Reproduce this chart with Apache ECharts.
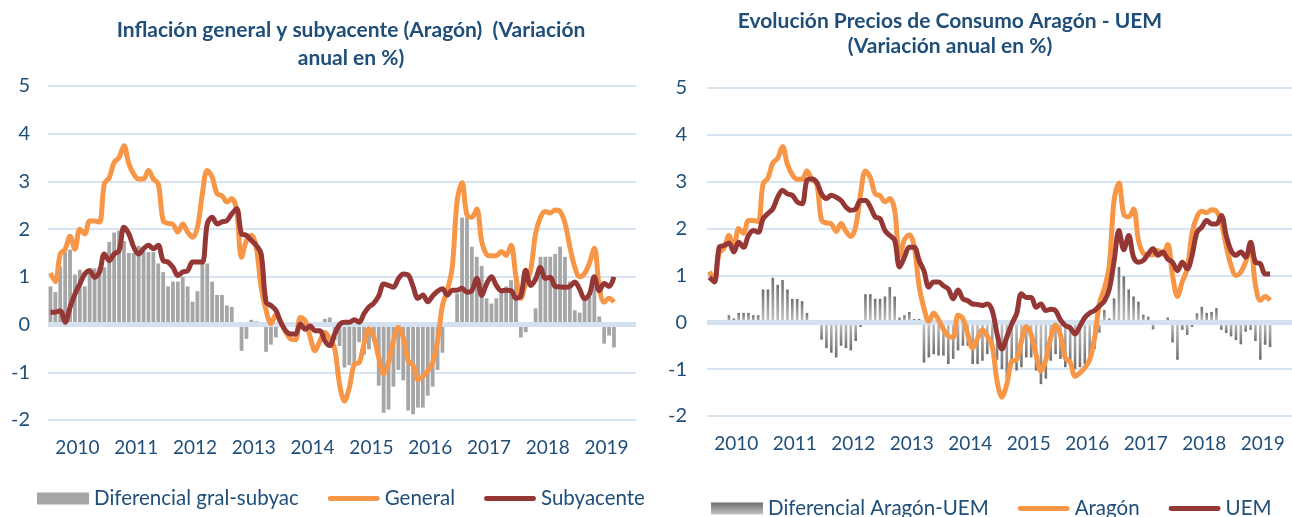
<!DOCTYPE html>
<html>
<head>
    <title>Inflación Aragón</title>
    <script src="https://cdn.jsdelivr.net/npm/echarts@6/dist/echarts.min.js"></script>
    <style>
        body { margin: 0; background: #fff; }
        .chart-box { position: absolute; top: 0; height: 517px; }
        #left { left: 0; width: 650px; }
        #right { left: 650px; width: 642px; }
    </style>
</head>
<body>
    <div id="left" class="chart-box"></div>
    <div id="right" class="chart-box"></div>

    <script>
        // year labels under the monthly axis
        var years = ['2010', '2011', '2012', '2013', '2014', '2015', '2016', '2017', '2018', '2019'];

        // general inflation Aragón (also "Aragón" in the right chart), Jan 2010 - Aug 2019
        var general = [
            1.08, 0.90, 1.48, 1.58, 1.85, 1.58, 2.00, 1.90, 2.17, 2.17, 2.15, 2.95,
            3.08, 3.40, 3.50, 3.75, 3.37, 3.15, 3.05, 3.05, 3.23, 3.05, 2.95, 2.18,
            2.12, 2.10, 1.94, 2.11, 1.94, 1.83, 2.04, 2.74, 3.23, 3.09, 2.74, 2.70,
            2.57, 2.64, 2.39, 1.41, 1.76, 1.87, 1.62, 0.78, 0.30, 0.02, 0.20, 0.05,
            -0.15, -0.30, -0.32, 0.15, 0.08, -0.26, -0.55, -0.34, -0.16, -0.30, -0.50, -1.25,
            -1.60, -1.32, -0.83, -0.80, -0.40, -0.09, -0.27, -0.69, -1.04, -0.80, -0.34, -0.06,
            -0.27, -0.76, -0.85, -1.15, -1.08, -0.97, -0.80, -0.34, 0.40, 0.72, 1.20, 2.60,
            2.97, 2.30, 2.25, 2.42, 1.75, 1.47, 1.44, 1.44, 1.53, 1.45, 1.66, 1.00,
            0.55, 0.87, 1.14, 1.90, 2.25, 2.37, 2.34, 2.40, 2.37, 2.13, 1.63, 1.21,
            1.00, 1.07, 1.29, 1.60, 0.79, 0.47, 0.55, 0.47
        ];

        var subyacente = [
            0.26, 0.26, 0.29, 0.05, 0.36, 0.64, 0.85, 1.06, 1.13, 0.99, 1.10, 1.48,
            1.34, 1.48, 1.55, 2.04, 1.90, 1.62, 1.48, 1.59, 1.66, 1.59, 1.66, 1.34,
            1.31, 1.20, 1.03, 1.10, 1.13, 1.31, 1.31, 1.31, 2.11, 2.25, 2.11, 2.15,
            2.18, 2.32, 2.43, 1.90, 1.87, 1.76, 1.66, 1.48, 0.47, 0.40, 0.30, 0.05,
            -0.13, -0.20, -0.20, 0.01, -0.10, -0.03, -0.13, -0.13, -0.34, -0.44, -0.20, 0.00,
            0.05, 0.05, 0.10, 0.05, 0.23, 0.37, 0.45, 0.60, 0.85, 0.82, 0.78, 0.96,
            1.06, 1.04, 0.80, 0.55, 0.62, 0.48, 0.60, 0.70, 0.75, 0.62, 0.72, 0.72,
            0.76, 0.68, 0.71, 0.97, 0.61, 0.85, 1.00, 0.82, 0.71, 0.72, 0.71, 0.55,
            0.60, 1.14, 0.82, 0.95, 1.20, 0.97, 0.99, 0.80, 0.79, 0.78, 0.80, 0.89,
            0.74, 0.54, 0.64, 1.00, 0.71, 0.86, 0.80, 1.00
        ];

        var difGralSubyac = [
            0.80, 0.68, 1.22, 1.52, 1.57, 1.05, 1.15, 0.80, 1.18, 1.18, 1.20, 1.20,
            1.73, 1.93, 1.97, 1.75, 1.50, 1.50, 1.65, 1.55, 1.52, 1.52, 1.28, 1.10,
            0.80, 0.90, 0.90, 1.00, 0.80, 0.48, 0.70, 1.30, 1.28, 0.90, 0.62, 0.62,
            0.40, 0.37, -0.05, -0.55, -0.30, 0.10, 0.07, 0.00, -0.57, -0.42, -0.27, 0.00,
            0.00, 0.00, 0.05, 0.10, 0.10, 0.00, 0.00, 0.00, 0.12, 0.15, -0.33, -0.45,
            -0.90, -0.85, -0.88, -0.37, -0.63, -0.52, -0.30, -1.28, -1.85, -1.78, -1.30, -0.95,
            -1.17, -1.80, -1.88, -1.74, -1.74, -1.49, -1.30, -0.95, -0.59, 0.03, 0.00, 0.65,
            2.24, 2.24, 1.63, 1.42, 1.23, 0.55, 0.44, 0.55, 0.72, 0.80, 0.93, 0.90,
            -0.27, -0.16, 0.00, 0.34, 1.42, 1.42, 1.42, 1.48, 1.63, 1.42, 0.90, 0.30,
            0.25, 0.50, 0.58, 0.79, 0.17, -0.40, -0.23, -0.48
        ];

        var uem = [
            0.96, 0.86, 1.60, 1.64, 1.69, 1.50, 1.71, 1.60, 1.85, 1.96, 1.92, 2.21,
            2.32, 2.42, 2.67, 2.82, 2.74, 2.71, 2.57, 2.53, 3.03, 3.06, 2.99, 2.74,
            2.64, 2.71, 2.67, 2.60, 2.46, 2.39, 2.42, 2.60, 2.60, 2.46, 2.25, 2.21,
            1.96, 1.85, 1.75, 1.18, 1.39, 1.60, 1.60, 1.32, 1.10, 0.75, 0.86, 0.86,
            0.78, 0.71, 0.50, 0.69, 0.50, 0.46, 0.39, 0.38, 0.36, 0.39, 0.25, -0.25,
            -0.57, -0.32, -0.04, 0.18, 0.61, 0.53, 0.53, 0.32, 0.39, 0.25, 0.28, 0.25,
            0.05, -0.07, -0.12, -0.25, -0.08, 0.10, 0.20, 0.25, 0.35, 0.45, 0.70, 1.30,
            1.96, 1.55, 1.85, 1.39, 1.28, 1.32, 1.46, 1.57, 1.43, 1.50, 1.35, 1.28,
            1.10, 1.28, 1.14, 1.43, 1.92, 2.03, 2.17, 2.10, 2.10, 2.28, 1.85, 1.53,
            1.43, 1.50, 1.39, 1.71, 1.28, 1.25, 1.03, 1.03
        ];

        var difAragonUem = [
            0.05, 0.02, 0.00, -0.03, 0.15, 0.08, 0.20, 0.20, 0.20, 0.15, 0.15, 0.70,
            0.70, 0.95, 0.80, 0.90, 0.70, 0.50, 0.50, 0.45, 0.20, 0.02, 0.00, -0.37,
            -0.55, -0.65, -0.75, -0.50, -0.55, -0.60, -0.40, -0.10, 0.60, 0.60, 0.50, 0.50,
            0.55, 0.75, 0.55, 0.10, 0.15, 0.22, 0.07, 0.07, -0.86, -0.75, -0.68, -0.71,
            -0.71, -0.89, -0.78, -0.60, -0.50, -0.50, -0.89, -0.89, -0.82, -0.68, -0.60, -0.80,
            -1.00, -1.20, -0.86, -1.03, -0.96, -0.75, -0.75, -1.03, -1.32, -1.20, -0.82, -0.68,
            -0.78, -0.96, -0.93, -1.00, -0.96, -0.89, -0.82, -0.57, -0.22, 0.26, 0.08, 0.51,
            1.18, 0.98, 0.70, 0.55, 0.44, 0.16, 0.12, -0.15, 0.00, 0.02, 0.10, -0.43,
            -0.80, -0.16, -0.27, -0.10, 0.19, 0.33, 0.20, 0.22, 0.30, -0.16, -0.23, -0.30,
            -0.38, -0.47, -0.20, -0.16, -0.40, -0.80, -0.48, -0.53
        ];

        // monthly categories, Jan 2010 .. Dec 2019
        var months = [];
        years.forEach(function (y) {
            for (var m = 1; m <= 12; m++) {
                months.push(y + '-' + (m < 10 ? '0' + m : m));
            }
        });

        var FONT = 'Lato, "Open Sans", sans-serif';
        var BLUE_TEXT = '#1f4e79';
        var ORANGE = '#f79646';
        var DARK_RED = '#953735';
        // flat bar used as legend swatch for the line series
        var LINE_ICON = 'path://M2,0 L50,0 A2.5,2.5 0 0 1 50,5 L2,5 A2.5,2.5 0 0 1 2,0 Z';

        function grayGradient(negative) {
            // darker at the far end of the bar, lighter near zero
            return new echarts.graphic.LinearGradient(0, 0, 0, 1, [
                { offset: 0, color: negative ? '#c4c4c4' : '#6f6f6f' },
                { offset: 1, color: negative ? '#6f6f6f' : '#c4c4c4' }
            ]);
        }

        function buildOption(cfg) {
            return {
                animation: false,
                textStyle: { fontFamily: FONT },
                title: {
                    text: cfg.title,
                    left: cfg.titleX,
                    top: cfg.titleTop,
                    padding: 0,
                    textAlign: 'center',
                    textStyle: {
                        fontFamily: FONT,
                        fontSize: 21,
                        fontWeight: 'bold',
                        color: BLUE_TEXT,
                        lineHeight: cfg.titleLineHeight
                    }
                },
                legend: {
                    left: cfg.legendLeft,
                    top: cfg.legendTop,
                    padding: 0,
                    itemWidth: 52,
                    itemHeight: 12,
                    itemGap: 29,
                    textStyle: { fontFamily: FONT, fontSize: 20.5, color: BLUE_TEXT },
                    data: [
                        { name: cfg.names[0], icon: 'rect' },
                        { name: cfg.names[1], icon: LINE_ICON },
                        { name: cfg.names[2], icon: LINE_ICON }
                    ]
                },
                grid: cfg.grid,
                xAxis: [
                    {
                        type: 'category',
                        data: months,
                        axisLine: { show: false },
                        axisTick: { show: false },
                        axisLabel: { show: false },
                        splitLine: { show: false }
                    },
                    {
                        type: 'category',
                        data: years,
                        position: 'bottom',
                        axisLine: { show: false, onZero: false },
                        axisTick: { show: false },
                        axisLabel: {
                            fontFamily: FONT,
                            fontSize: 19,
                            color: BLUE_TEXT,
                            margin: 18
                        }
                    }
                ],
                yAxis: {
                    type: 'value',
                    min: -2,
                    max: 5,
                    interval: 1,
                    axisLine: { show: false },
                    axisTick: { show: false },
                    axisLabel: {
                        fontFamily: FONT,
                        fontSize: 20,
                        color: BLUE_TEXT,
                        margin: cfg.yLabelMargin
                    },
                    splitLine: { lineStyle: { color: '#d9e4f2', width: 2 } }
                },
                series: [
                    {
                        name: cfg.names[0],
                        type: 'bar',
                        xAxisIndex: 0,
                        barWidth: cfg.barWidth,
                        data: cfg.barData,
                        itemStyle: { color: cfg.barColor },
                        z: 2,
                        markLine: {
                            silent: true,
                            symbol: 'none',
                            label: { show: false },
                            lineStyle: { color: '#d3e1f1', width: 5, type: 'solid' },
                            data: [{ yAxis: 0 }],
                            z: 3
                        }
                    },
                    {
                        name: cfg.names[1],
                        type: 'line',
                        xAxisIndex: 0,
                        data: cfg.lineA,
                        smooth: 0.35,
                        symbol: 'none',
                        lineStyle: { color: ORANGE, width: 5 },
                        itemStyle: { color: ORANGE },
                        z: 4
                    },
                    {
                        name: cfg.names[2],
                        type: 'line',
                        xAxisIndex: 0,
                        data: cfg.lineB,
                        smooth: 0.35,
                        symbol: 'none',
                        lineStyle: { color: DARK_RED, width: 5 },
                        itemStyle: { color: DARK_RED },
                        z: 5
                    }
                ]
            };
        }

        var leftChart = echarts.init(document.getElementById('left'));
        leftChart.setOption(buildOption({
            title: 'Inflación general y subyacente (Aragón)  (Variación\nanual en %)',
            titleX: 351,
            titleTop: 16,
            titleLineHeight: 28,
            legendLeft: 37,
            legendTop: 488,
            names: ['Diferencial gral-subyac', 'General', 'Subyacente'],
            grid: { left: 48, right: 14, top: 86, bottom: 97 },
            yLabelMargin: 18,
            barWidth: 3.8,
            barColor: '#a6a6a6',
            barData: difGralSubyac,
            lineA: general,
            lineB: subyacente
        }));

        var rightBars = difAragonUem.map(function (v) {
            return { value: v, itemStyle: { color: grayGradient(v < 0) } };
        });

        var rightChart = echarts.init(document.getElementById('right'));
        rightChart.setOption(buildOption({
            title: 'Evolución Precios de Consumo Aragón - UEM\n(Variación anual en %)',
            titleX: 300,
            titleTop: 9,
            titleLineHeight: 25,
            legendLeft: 61,
            legendTop: 498,
            names: ['Diferencial Aragón-UEM', 'Aragón', 'UEM'],
            grid: { left: 57, right: 0, top: 88, bottom: 101 },
            yLabelMargin: 20,
            barWidth: 2.6,
            barColor: grayGradient(false),
            barData: rightBars,
            lineA: general,
            lineB: uem
        }));
    </script>
</body>
</html>
